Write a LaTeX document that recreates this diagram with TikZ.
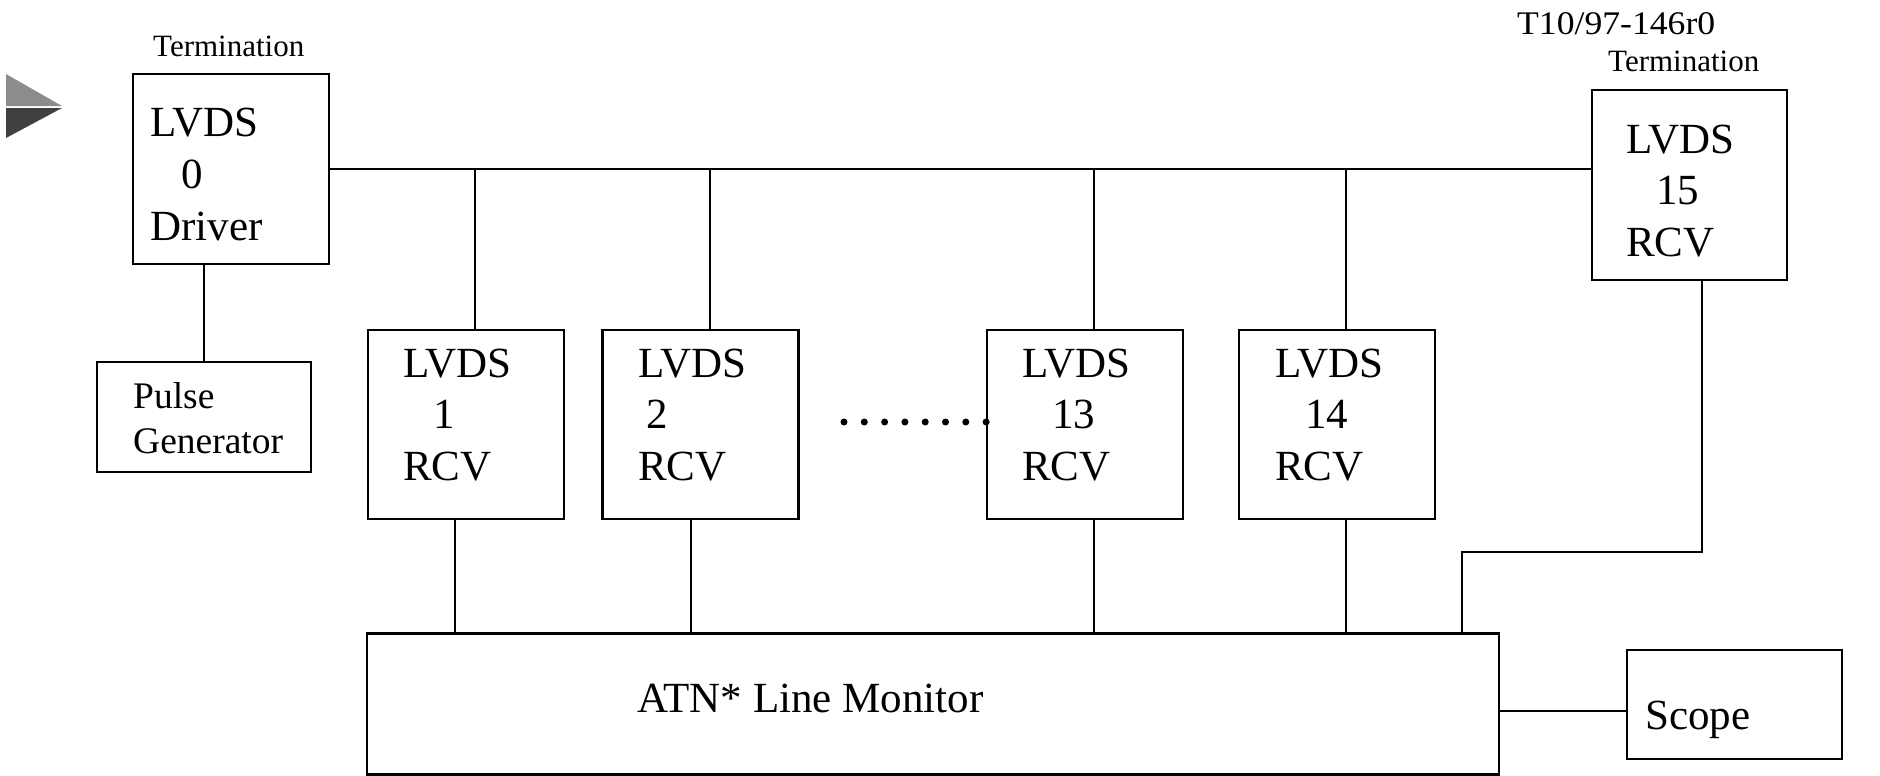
\documentclass[tikz,border=0pt]{standalone}
\usepackage{fontspec}
\setmainfont{Liberation Serif}
\definecolor{tiplight}{HTML}{8C8C8C}
\definecolor{tipdark}{HTML}{404040}
\begin{document}
\begin{tikzpicture}[x=1pt, y=-1pt,
  box/.style={draw, line width=2.6pt, inner sep=0pt},
  unit/.style={box, minimum width=196pt, minimum height=189pt},
  wire/.style={line width=2pt},
  big/.style={font=\fontsize{43}{43}\selectfont, inner sep=0pt, anchor=base west},
  small/.style={font=\fontsize{31}{31}\selectfont, inner sep=0pt, anchor=base west},
  mid/.style={font=\fontsize{37.5}{37.5}\selectfont, inner sep=0pt, anchor=base west},
  dot/.style={circle, fill, inner sep=0pt, minimum size=7pt}]
\useasboundingbox (0,0) rectangle (1880,776);

% slide marker
\fill[tiplight] (6,74) -- (62,106) -- (6,106) -- cycle;
\fill[tipdark] (6,108) -- (62,108) -- (6,138) -- cycle;

% boxes
\node[box, minimum width=196pt, minimum height=190pt] (d0) at (231,169) {};
\node[box, minimum width=195pt, minimum height=190pt] (r15) at (1689.5,185) {};
\node[unit] (r1) at (466,424.5) {};
\node[unit] (r2) at (700.5,424.5) {};
\node[unit] (r13) at (1085,424.5) {};
\node[unit] (r14) at (1337,424.5) {};
\node[box, minimum width=214pt, minimum height=110pt] (pg) at (204,417) {};
\node[box, minimum width=1132pt, minimum height=141pt] (mon) at (933,704) {};
\node[box, minimum width=215pt, minimum height=109pt] (scope) at (1734.5,704.5) {};

% labels
\node[small] (t0) at (153,57) {Termination};
\node[small] (t15) at (1608,72) {Termination};
\node[font=\fontsize{33}{33}\selectfont, inner sep=0pt, anchor=base west] (doc) at (1517,35) {\scalebox{1.08}[1]{T10/97-146r0}};

\node[big] (d0a) at (150,136) {LVDS};
\node[big] (d0b) at (181,188) {0};
\node[big] (d0c) at (150,240) {Driver};

\node[big] (r15a) at (1626,153) {LVDS};
\node[big] (r15b) at (1656,204) {15};
\node[big] (r15c) at (1626,256) {RCV};

\node[big] (r1a) at (403,377) {LVDS};
\node[big] (r1b) at (433,428) {1};
\node[big] (r1c) at (403,480) {RCV};

\node[big] (r2a) at (638,377) {LVDS};
\node[big] (r2b) at (646,428) {2};
\node[big] (r2c) at (638,480) {RCV};

\node[big] (r13a) at (1022,377) {LVDS};
\node[big] (r13b) at (1052,428) {13};
\node[big] (r13c) at (1022,480) {RCV};

\node[big] (r14a) at (1275,377) {LVDS};
\node[big] (r14b) at (1305,428) {14};
\node[big] (r14c) at (1275,480) {RCV};

\node[mid] (pga) at (133,408) {Pulse};
\node[mid] (pgb) at (133,453) {Generator};

\node[big] (monl) at (637,712) {ATN* Line Monitor};
\node[big] (scl) at (1645,729) {Scope};

% bus from driver to far-end receiver
\draw[wire] (d0.east) -- (d0.east -| r15.west);
% receiver taps on the bus
\foreach \r in {r1,r2,r13,r14}
  \draw[wire] ([xshift=9pt]\r.north) -- ([xshift=9pt]\r.north |- d0.east);
% driver to pulse generator
\draw[wire] (pg.north) -- (pg.north |- d0.south);
% receiver outputs to the monitor
\draw[wire] ([xshift=-11pt]r1.south) -- ([xshift=-11pt]r1.south |- mon.north);
\draw[wire] ([xshift=-10pt]r2.south) -- ([xshift=-10pt]r2.south |- mon.north);
\draw[wire] ([xshift=9pt]r13.south) -- ([xshift=9pt]r13.south |- mon.north);
\draw[wire] ([xshift=9pt]r14.south) -- ([xshift=9pt]r14.south |- mon.north);
\coordinate (bend) at (1462,552);
\draw[wire] ([xshift=12.5pt]r15.south) |- (bend) -- (bend |- mon.north);
% monitor to scope
\draw[wire] ([yshift=-7pt]mon.east) -- ([yshift=-7pt]mon.east -| scope.west);

% ellipsis between the receivers
\foreach \i in {0,...,7}
  \node[dot] (e\i) at (844+20.3*\i,422) {};
\end{tikzpicture}
\end{document}
